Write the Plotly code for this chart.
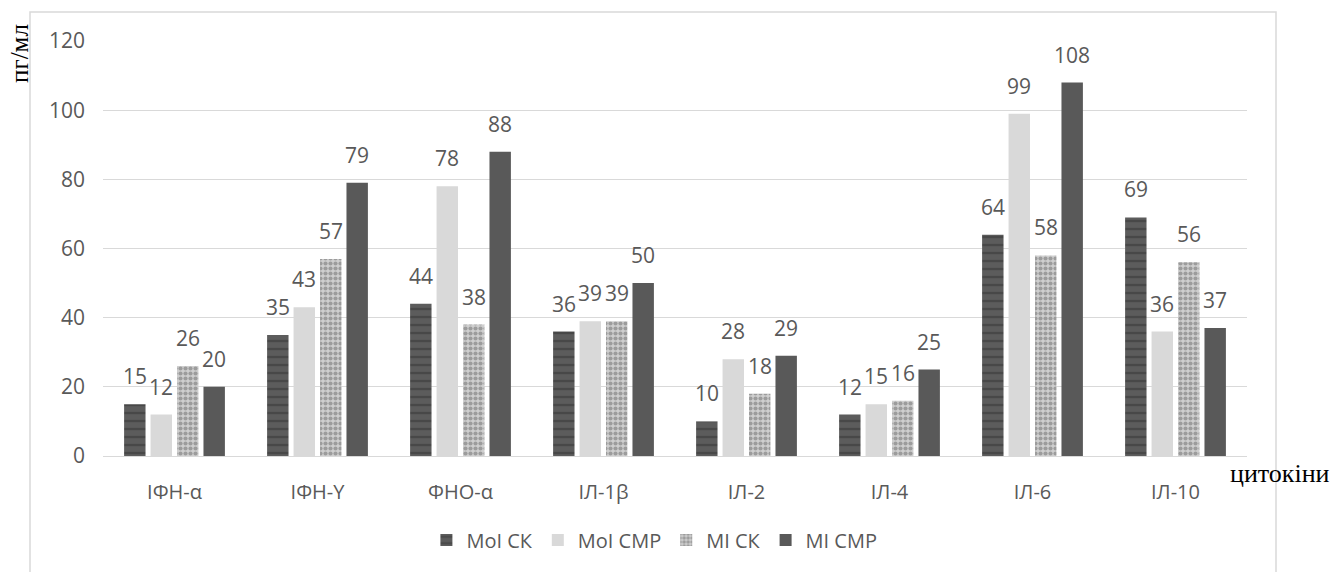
import plotly.graph_objects as go

# Cytokine levels, pg/ml
categories = ["ІФН-α", "ІФН-Y", "ФНО-α", "ІЛ-1β", "ІЛ-2", "ІЛ-4", "ІЛ-6", "ІЛ-10"]
moi_sk = [15, 35, 44, 36, 10, 12, 64, 69]
moi_smr = [12, 43, 78, 39, 28, 15, 99, 36]
mi_sk = [26, 57, 38, 39, 18, 16, 58, 56]
mi_smr = [20, 79, 88, 50, 29, 25, 108, 37]
y_ticks = [0, 20, 40, 60, 80, 100, 120]

W, H = 1333, 572
L, R, T, B = 103, 86, 41, 116
pw, ph = W - L - R, H - T - B
slot_px = pw / len(categories) * (1 - 0.26) / 4


def px_x(p):
    return (p - L) / pw


def px_y(p):
    return (H - B - p) / ph


sans = "Open Sans, Liberation Sans, sans-serif"
serif = "Liberation Serif, DejaVu Serif, serif"
grey = "#595959"

series = [
    ("MoI СК", moi_sk, dict(color="#4f4f4f",
                             pattern=dict(shape="-", fgcolor="#333333", bgcolor="#5c5c5c",
                                          size=8, solidity=0.3))),
    ("MoI СМР", moi_smr, dict(color="#d9d9d9")),
    ("MI СК", mi_sk, dict(color="#a8a8a8",
                           pattern=dict(shape=".", fgcolor="#6a6a6a", bgcolor="#cfcfcf",
                                        size=5, solidity=0.55))),
    ("MI СМР", mi_smr, dict(color="#595959")),
]

fig = go.Figure()
for i, (name, vals, marker) in enumerate(series):
    fig.add_trace(go.Bar(name=name, x=categories, y=vals,
                         marker=dict(line=dict(width=0), **marker)))
    # value labels above each bar
    for cat, v in zip(categories, vals):
        fig.add_annotation(x=cat, y=v, text=str(v), showarrow=False,
                           xanchor="center", yanchor="bottom",
                           xshift=(i - 1.5) * slot_px, yshift=12,
                           font=dict(family=sans, size=21, color=grey))

fig.update_layout(
    width=W, height=H,
    margin=dict(l=L, r=R, t=T, b=B),
    paper_bgcolor="white", plot_bgcolor="white",
    barmode="group", bargap=0.26, bargroupgap=0.19,
    font=dict(family=sans, size=20, color=grey),
    legend=dict(orientation="h", x=0.482, xanchor="center", y=px_y(540), yanchor="middle",
                font=dict(family=sans, size=20, color=grey),
                itemwidth=30, traceorder="normal"),
    xaxis=dict(showgrid=False, showline=True, linecolor="#d9d9d9", linewidth=1,
               tickfont=dict(family=sans, size=20, color=grey), ticks="",
               ticklabelstandoff=18),
    yaxis=dict(range=[0, 120], tickvals=y_ticks, showgrid=True, gridcolor="#d9d9d9",
               zeroline=False, showline=False,
               tickfont=dict(family=sans, size=21, color=grey), ticks="",
               ticklabelstandoff=17),
)

# outer chart frame
fig.add_shape(type="rect", xref="paper", yref="paper",
              x0=px_x(30), x1=px_x(1276), y0=px_y(600), y1=px_y(12),
              line=dict(color="#d9d9d9", width=1.5), fillcolor="rgba(0,0,0,0)", layer="below")

fig.add_annotation(text="пг/мл", xref="paper", yref="paper",
                   x=px_x(20), y=px_y(54), textangle=-90, showarrow=False,
                   xanchor="center", yanchor="middle",
                   font=dict(family=serif, size=25, color="black"))
fig.add_annotation(text="цитокіни", xref="paper", yref="paper",
                   x=px_x(1280), y=px_y(473), showarrow=False,
                   xanchor="center", yanchor="middle",
                   font=dict(family=serif, size=26, color="black"))

fig.write_html("out.html")
